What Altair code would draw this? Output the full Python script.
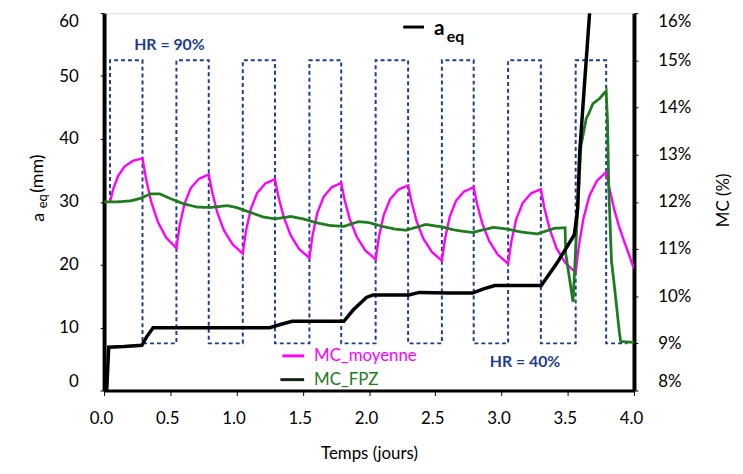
import altair as alt
import pandas as pd

# ---------------- data ----------------
x_ticks = [0.0, 0.5, 1.0, 1.5, 2.0, 2.5, 3.0, 3.5, 4.0]
left_ticks = [0, 10, 20, 30, 40, 50, 60]
right_ticks = [8, 9, 10, 11, 12, 13, 14, 15, 16]

# relative humidity square wave (plotted on the MC axis: 15 % = HR 90 %, 9 % = HR 40 %)
hr_t = [0.045, 0.045, 0.29, 0.29, 0.546, 0.546, 0.79, 0.79, 1.047, 1.047, 1.29, 1.29,
        1.55, 1.55, 1.79, 1.79, 2.05, 2.05, 2.295, 2.295, 2.55, 2.55, 2.79, 2.79,
        3.05, 3.05, 3.297, 3.297, 3.56, 3.56, 3.79, 3.79, 3.95]
hr_v = [12.0, 15, 15, 9, 9, 15, 15, 9, 9, 15, 15, 9,
        9, 15, 15, 9, 9, 15, 15, 9, 9, 15, 15, 9,
        9, 15, 15, 9, 9, 15, 15, 9, 9]

# MC_moyenne (%)
moy_t = [0.045, 0.070, 0.106, 0.155, 0.217, 0.29, 0.316, 0.354, 0.405, 0.469,
         0.546, 0.570, 0.607, 0.656, 0.717, 0.79, 0.816, 0.854, 0.906, 0.970,
         1.047, 1.071, 1.108, 1.156, 1.217, 1.29, 1.316, 1.355, 1.407, 1.472,
         1.55, 1.574, 1.610, 1.658, 1.718, 1.79, 1.816, 1.855, 1.907, 1.972,
         2.05, 2.075, 2.111, 2.160, 2.222, 2.295, 2.321, 2.359, 2.410, 2.474,
         2.55, 2.574, 2.610, 2.658, 2.718, 2.79, 2.816, 2.855, 2.907, 2.972,
         3.05, 3.075, 3.112, 3.161, 3.223, 3.297, 3.323, 3.363, 3.415, 3.481,
         3.56, 3.583, 3.618, 3.664, 3.721, 3.79, 3.81, 3.85, 3.885, 3.925, 3.96, 4.0]
moy_v = [12.00, 12.28, 12.55, 12.75, 12.87, 12.92, 12.50, 12.02, 11.58, 11.24,
         11.02, 11.49, 11.96, 12.30, 12.49, 12.58, 12.21, 11.78, 11.39, 11.10,
         10.90, 11.38, 11.85, 12.19, 12.39, 12.48, 12.11, 11.69, 11.30, 11.00,
         10.81, 11.29, 11.77, 12.11, 12.31, 12.40, 12.04, 11.63, 11.26, 10.97,
         10.78, 11.26, 11.72, 12.06, 12.26, 12.35, 12.00, 11.59, 11.22, 10.94,
         10.75, 11.22, 11.69, 12.03, 12.22, 12.31, 11.95, 11.54, 11.17, 10.88,
         10.69, 11.17, 11.64, 11.98, 12.18, 12.27, 11.88, 11.43, 11.02, 10.71,
         10.50, 11.05, 11.64, 12.13, 12.45, 12.63, 12.35, 11.85, 11.50, 11.17, 10.90, 10.58]

# MC_FPZ (%)
fpz_t = [0.0, 0.1, 0.2, 0.28, 0.35, 0.42, 0.5, 0.6, 0.7, 0.8, 0.93, 1.0, 1.1, 1.2,
         1.29, 1.41, 1.5, 1.6, 1.7, 1.81, 1.92, 2.0, 2.1, 2.2, 2.28, 2.43, 2.55,
         2.65, 2.78, 2.94, 3.05, 3.15, 3.27, 3.40, 3.48, 3.485, 3.54, 3.575, 3.60,
         3.64, 3.66, 3.69, 3.74, 3.79, 3.80, 3.81, 3.83, 3.85, 3.89, 3.90, 4.0]
fpz_v = [12.0, 12.0, 12.02, 12.08, 12.17, 12.17, 12.07, 11.96, 11.89, 11.88, 11.92,
         11.88, 11.78, 11.68, 11.64, 11.69, 11.64, 11.56, 11.50, 11.48, 11.58, 11.56,
         11.48, 11.42, 11.40, 11.52, 11.47, 11.40, 11.35, 11.46, 11.42, 11.36, 11.32,
         11.44, 11.45, 10.9, 9.88, 11.86, 13.19, 13.77, 13.88, 14.08, 14.19, 14.35,
         13.73, 12.27, 10.75, 10.27, 9.23, 9.04, 9.02]

# a_eq (mm)
aeq_t = [0.0, 0.02, 0.035, 0.15, 0.285, 0.32, 0.37, 1.25, 1.33, 1.42, 1.81, 1.88,
         1.98, 2.03, 2.30, 2.38, 2.60, 2.78, 2.87, 2.95, 3.30, 3.42, 3.55, 3.575,
         3.59, 3.625, 3.665]
aeq_v = [0.0, 0.0, 6.9, 7.0, 7.2, 8.5, 10.0, 10.0, 10.5, 11.0, 11.0, 12.8,
         14.8, 15.2, 15.2, 15.6, 15.5, 15.5, 16.2, 16.7, 16.7, 20.3, 24.8, 28.9,
         37.8, 48.3, 60.0]

# ---------------- tables ----------------
rows = []
for name, ts, vs in [("HR", hr_t, hr_v), ("MC_moyenne", moy_t, moy_v), ("MC_FPZ", fpz_t, fpz_v)]:
    for i, (t, v) in enumerate(zip(ts, vs)):
        rows.append({"t": t, "v": v, "s": name, "i": i})
df_mc = pd.DataFrame(rows)
df_aeq = pd.DataFrame({"t": aeq_t, "v": aeq_v, "i": list(range(len(aeq_t)))})
one = pd.DataFrame({"k": [0]})

FONT = "Lato"
BLUE = "#1f3d8c"
MAG = "#ff00ff"
GREEN = "#1e7b1e"

x_enc = alt.X("t:Q", scale=alt.Scale(domain=[0, 4], nice=False, zero=False),
              axis=alt.Axis(values=x_ticks, format=".1f", title="Temps (jours)",
                            titleFontSize=17, titleFont=FONT, titleFontWeight="normal",
                            titlePadding=20, titleColor="black",
                            labelFontSize=17, labelFont=FONT, labelColor="black",
                            labelFlush=False, labelOffset=-3,
                            labelPadding=15, tickSize=5, tickColor="black",
                            domainColor="black", domainWidth=3, grid=False))

mc = alt.Chart(df_mc).mark_line(interpolate="linear", clip=True).encode(
    x=x_enc,
    y=alt.Y("v:Q", scale=alt.Scale(domain=[8, 16], nice=False, zero=False),
            axis=alt.Axis(orient="right", values=right_ticks, labelExpr="datum.value + '%'",
                          title=None, labelFontSize=17, labelFont=FONT, labelColor="black",
                          labelPadding=20, labelFlush=True, tickSize=4, tickColor="black",
                          domainColor="black", domainWidth=4, grid=False)),
    color=alt.Color("s:N", scale=alt.Scale(domain=["HR", "MC_moyenne", "MC_FPZ"],
                                           range=[BLUE, MAG, GREEN]), legend=None),
    strokeDash=alt.StrokeDash("s:N", scale=alt.Scale(domain=["HR", "MC_moyenne", "MC_FPZ"],
                                                     range=[[4, 3], [1, 0], [1, 0]]), legend=None),
    strokeWidth=alt.StrokeWidth("s:N", scale=alt.Scale(domain=["HR", "MC_moyenne", "MC_FPZ"],
                                                       range=[2, 2.8, 2.5]), legend=None),
    order=alt.Order("i:Q"),
)

aeq = alt.Chart(df_aeq).mark_line(color="black", strokeWidth=3.5, clip=True).encode(
    x=alt.X("t:Q"),
    y=alt.Y("v:Q", scale=alt.Scale(domain=[0, 60], nice=False, zero=False),
            axis=alt.Axis(orient="left", values=left_ticks, title=None,
                          labelFontSize=17, labelFont=FONT, labelColor="black",
                          labelPadding=22, labelFlush=True, tickSize=4, tickColor="black",
                          domainColor="black", domainWidth=4, grid=False)),
    order=alt.Order("i:Q"),
)


def txt(s, x, y, size=17, color="black", weight="normal", align="left",
        baseline="middle", angle=0):
    return alt.Chart(one).mark_text(text=s, font=FONT, fontSize=size, color=color,
                                    fontWeight=weight, align=align, baseline=baseline,
                                    angle=angle).encode(x=alt.value(x), y=alt.value(y))


def seg(x1, x2, y, color, w=3):
    return alt.Chart(one).mark_rule(color=color, strokeWidth=w).encode(
        x=alt.value(x1), x2=alt.value(x2), y=alt.value(y))


annotations = [
    txt("HR = 90%", 66, 32, size=16, color=BLUE, weight="bold", align="center"),
    txt("HR = 40%", 425, 352, size=16, color=BLUE, weight="bold", align="center"),
    seg(302, 323, 14, "black"),
    txt("a", 333, 22, size=21, weight="bold", baseline="alphabetic"),
    txt("eq", 346, 29, size=16, weight="bold", baseline="alphabetic"),
    seg(180, 202, 346, MAG),
    txt("MC_moyenne", 212, 346, size=17, color=MAG),
    seg(178, 202, 370, "#142414"),
    txt("MC_FPZ", 212, 370, size=17, color=GREEN),
    # left axis title a_eq (mm), rotated
    txt("a", -66, 206, size=18, align="center", angle=270),
    txt("eq", -62, 190, size=13, align="center", angle=270),
    txt("(mm)", -67, 162, size=18, align="center", angle=270),
    # right axis title
    txt("MC (%)", 626, 189, size=17, align="center", angle=270),
]

chart = alt.layer(mc, aeq, *annotations).resolve_scale(y="independent").properties(
    width=535, height=381,
    autosize=alt.AutoSizeParams(type="none"),
    padding={"left": 97, "top": 3, "right": 102, "bottom": 78},
).configure_view(stroke=None).configure(background="white")

chart.save("out.html", embed_options={"renderer": "svg", "actions": False})
